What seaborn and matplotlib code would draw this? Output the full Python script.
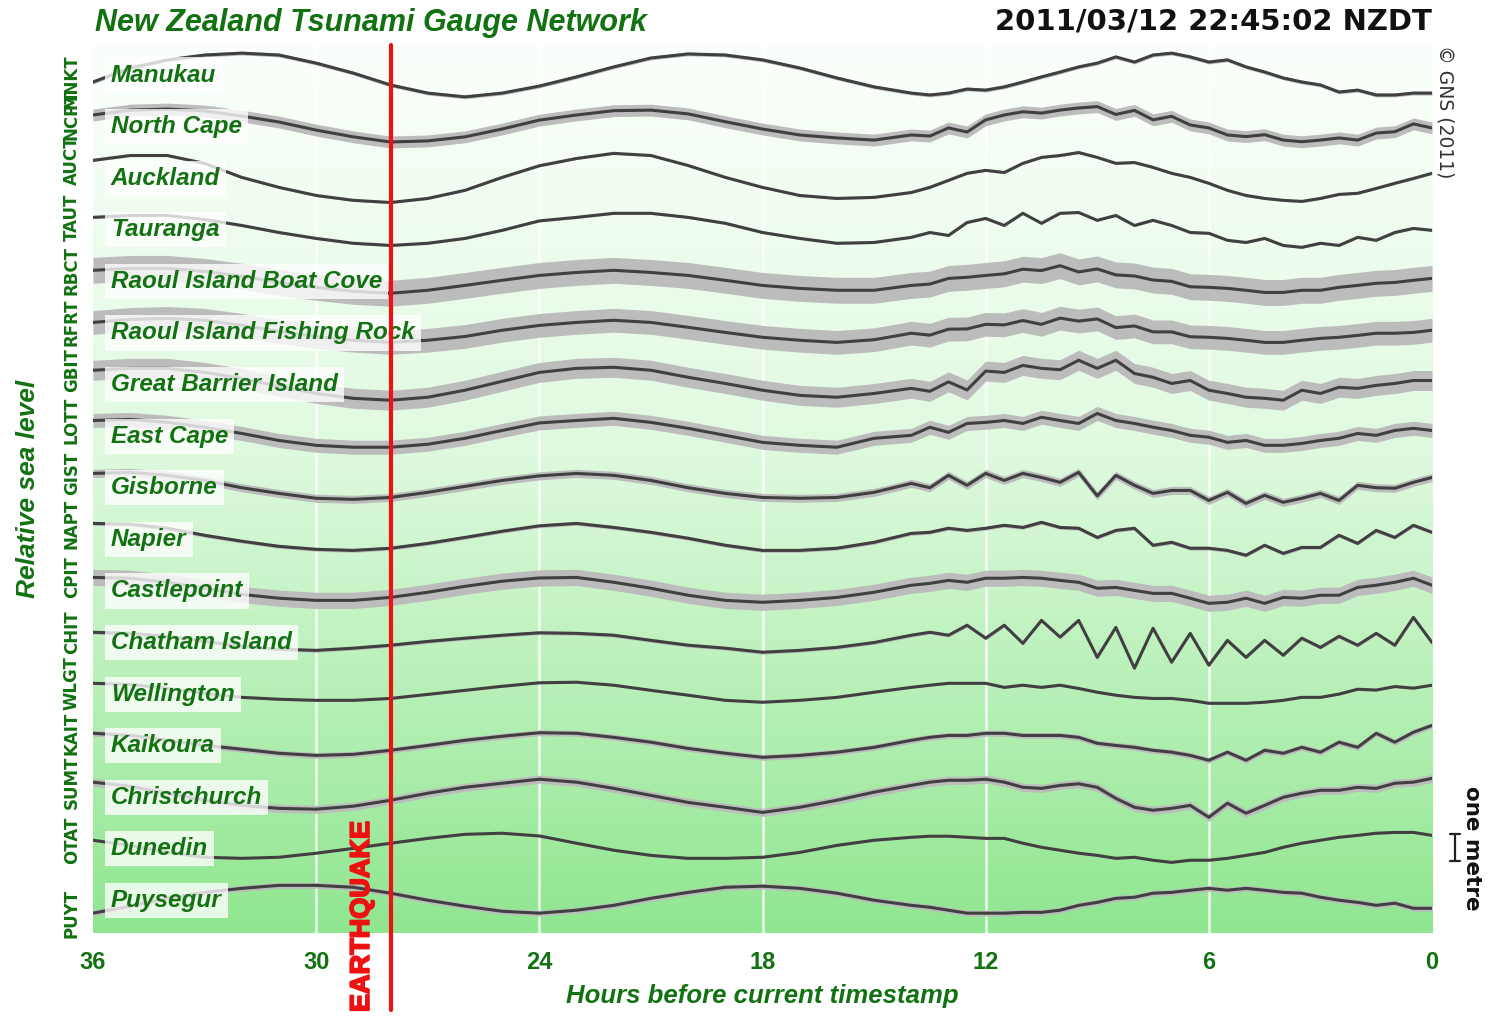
import matplotlib

# Headless backend, the file only writes out.png.
matplotlib.use("Agg")
import matplotlib.pyplot as plt  # noqa: E402
import matplotlib.patheffects as pe  # noqa: E402
import matplotlib.transforms as mtransforms  # noqa: E402
from matplotlib.colors import LinearSegmentedColormap  # noqa: E402
import numpy as np  # noqa: E402
import seaborn as sns  # noqa: E402

sns.set_style("white")
plt.rcParams["font.family"] = ["Liberation Sans", "DejaVu Sans"]

# ---------------------------------------------------------------------------
# Data: hours before the current timestamp, sea level per gauge in cm
# (hourly samples up to 14 h, then every half hour)
# ---------------------------------------------------------------------------
HOURS = [36, 35, 34, 33, 32, 31, 30, 29, 28, 27, 26, 25, 24, 23, 22, 21, 20,
         19, 18, 17, 16, 15, 14,
         13.5, 13, 12.5, 12, 11.5, 11, 10.5, 10, 9.5, 9, 8.5, 8, 7.5, 7,
         6.5, 6, 5.5, 5, 4.5, 4, 3.5, 3, 2.5, 2, 1.5, 1, 0.5, 0]

STATIONS = ["Manukau", "North Cape", "Auckland", "Tauranga",
            "Raoul Island Boat Cove", "Raoul Island Fishing Rock",
            "Great Barrier Island", "East Cape", "Gisborne", "Napier",
            "Castlepoint", "Chatham Island", "Wellington", "Kaikoura",
            "Christchurch", "Dunedin", "Puysegur"]
CODES = ["MNKT", "NCPT", "AUCT", "TAUT", "RBCT", "RFRT", "GBIT", "LOTT",
         "GIST", "NAPT", "CPIT", "CHIT", "WLGT", "KAIT", "SUMT", "OTAT", "PUYT"]

MANUKAU = [-26, 26, 56, 74, 81, 74, 44, 7, -37, -67, -81, -67, -41, -7, 30, 63,
           78, 74, 56, 26, -11, -44, -67,
           -74, -67, -52, -56, -44, -26, -7, 11, 30, 44, 67, 48, 74, 81, 67, 48,
           56, 30, 11, -11, -26, -37, -63, -56, -74, -74, -67, -67]
NORTH_CAPE = [43, 61, 65, 58, 39, 17, -13, -38, -57, -53, -38, -9, 24, 43, 59,
              61, 47, 18, -9, -31, -42, -50, -31,
              -35, -5, -20, 25, 43, 55, 50, 61, 69, 74, 45, 60, 25, 38, 6, -5,
              -31, -37, -30, -50, -56, -50, -42, -50, -24, -19, 10, -5]
AUCKLAND = [66, 84, 84, 55, 3, -34, -64, -82, -90, -75, -45, 3, 46, 73, 92, 84,
            47, 3, -34, -64, -75, -71, -53,
            -34, -8, 18, 29, 21, 55, 77, 84, 95, 77, 55, 58, 40, 18, 3, -19,
            -45, -64, -75, -82, -86, -75, -60, -56, -38, -19, -1, 18]
TAURANGA = [46, 53, 53, 38, 16, -10, -32, -50, -58, -50, -32, -2, 33, 46, 61,
            61, 46, 24, -10, -32, -50, -47, -28,
            -10, -21, 27, 42, 16, 61, 24, 61, 64, 35, 53, 16, 35, 16, -10, -13,
            -39, -47, -32, -58, -65, -50, -58, -28, -39, -10, 5, -2]
RAOUL_BOAT_COVE = [41, 48, 48, 37, 19, -4, -22, -37, -44, -33, -15, 4, 22, 33,
                   41, 33, 22, 4, -15, -26, -33, -33, -15,
                   -10, 11, 15, 22, 28, 45, 40, 58, 35, 46, 24, 20, 5, 0, -20,
                   -22, -26, -33, -41, -41, -33, -33, -22, -15, -7, -4, 4, 11]
RAOUL_FISHING_ROCK = [39, 50, 54, 47, 28, 6, -13, -27, -35, -27, -13, 10, 28,
                      39, 47, 39, 21, 2, -16, -27, -35, -25, -1,
                      -8, 14, 15, 32, 30, 46, 32, 55, 44, 52, 20, 26, 4, 4, -14,
                      -16, -20, -27, -35, -35, -27, -20, -16, -9, -1, -1, 2, 10]
GREAT_BARRIER = [53, 60, 60, 45, 23, -7, -33, -51, -58, -47, -21, 12, 45, 60,
                 64, 53, 27, 4, -21, -40, -47, -33, -14,
                 -25, 10, -20, 50, 45, 71, 60, 55, 90, 60, 90, 41, 27, 4, 15,
                 -21, -33, -47, -51, -58, -21, -33, -10, -14, -3, 4, 15, 15]
EAST_CAPE = [58, 62, 51, 33, 10, -16, -34, -41, -41, -30, -8, 21, 49, 58, 66,
             51, 29, 3, -23, -34, -41, -8, 3,
             33, 14, 47, 51, 58, 47, 70, 58, 47, 84, 58, 47, 33, 21, 3, -4, -23,
             -16, -34, -34, -27, -16, -8, 10, 3, 21, 29, 21]
GISBORNE = [53, 57, 46, 27, 0, -21, -39, -43, -36, -17, 5, 27, 44, 53, 46, 27,
            0, -21, -36, -39, -36, -17, 16,
            0, 46, 9, 53, 27, 53, 38, 20, 57, -30, 46, 9, -21, -10, -10, -47,
            -17, -58, -28, -54, -39, -21, -47, 9, 0, -2, 20, 38]
NAPIER = [59, 56, 41, 15, -7, -26, -37, -41, -33, -15, 7, 30, 50, 59, 44, 26, 4,
          -22, -41, -41, -33, -11, 22,
          26, 41, 33, 41, 52, 44, 63, 44, 41, 7, 33, 41, -22, -11, -33, -33,
          -41, -59, -22, -52, -30, -30, 15, -15, 33, 7, 52, 26]
CASTLEPOINT = [50, 47, 32, 10, -13, -27, -35, -35, -24, -5, 17, 36, 48, 50, 32,
               10, -16, -35, -42, -35, -24, -5, 21,
               28, 39, 32, 47, 47, 50, 47, 39, 32, 10, 13, 2, -9, -9, -27, -46,
               -42, -27, -46, -24, -27, -16, -16, 13, 21, 32, 47, 21]
CHATHAM = [38, 34, 23, 4, -14, -25, -29, -21, -10, 4, 16, 27, 36, 34, 27, 8,
           -10, -21, -36, -29, -18, 0, 27,
           38, 27, 64, 16, 64, -3, 82, 20, 82, -55, 56, -95, 53, -73, 34, -84,
           8, -55, 8, -47, 16, -18, 23, -10, 34, -10, 93, 0]
WELLINGTON = [40, 36, 21, 3, -12, -19, -23, -23, -16, -1, 14, 29, 42, 44, 33,
              14, -4, -23, -30, -23, -12, 7, 25,
              33, 40, 40, 40, 25, 33, 25, 33, 21, 7, -4, -12, -16, -16, -23,
              -34, -34, -34, -30, -23, -12, -12, 0, 18, 15, 28, 22, 33]
KAIKOURA = [46, 38, 20, 1, -13, -28, -36, -32, -17, 1, 20, 35, 48, 46, 31, 13,
            -10, -28, -43, -36, -24, -6, 20,
            31, 38, 38, 46, 46, 38, 38, 38, 31, 9, 1, -6, -17, -24, -36, -54,
            -24, -54, -17, -28, -6, -24, 13, -6, 46, 13, 50, 75]
CHRISTCHURCH = [56, 41, 15, -11, -30, -41, -44, -33, -11, 15, 37, 52, 67, 56,
                33, 7, -19, -37, -56, -37, -11, 19, 44,
                56, 63, 63, 67, 56, 37, 33, 44, 50, 37, -4, -37, -48, -41, -30,
                -74, -22, -59, -30, 0, 15, 26, 26, 37, 33, 52, 56, 70]
DUNEDIN = [32, 13, -13, -31, -35, -31, -16, 2, 21, 39, 54, 58, 48, 21, -5, -24,
           -35, -35, -31, -13, 13, 32, 43,
           47, 47, 43, 39, 39, 21, 6, -5, -16, -24, -35, -31, -42, -50, -42,
           -42, -35, -24, -13, 6, 21, 32, 43, 50, 58, 61, 61, 50]
PUYSEGUR = [-47, -21, 8, 30, 45, 56, 56, 49, 27, 1, -21, -40, -47, -36, -18, 8,
            30, 49, 53, 45, 27, 1, -18,
            -25, -36, -47, -47, -47, -44, -44, -36, -18, -7, 8, 12, 27, 30, 38,
            45, 38, 45, 38, 30, 27, 12, 1, -7, -18, -10, -29, -29]

LEVELS = [MANUKAU, NORTH_CAPE, AUCKLAND, TAURANGA, RAOUL_BOAT_COVE,
          RAOUL_FISHING_ROCK, GREAT_BARRIER, EAST_CAPE, GISBORNE, NAPIER,
          CASTLEPOINT, CHATHAM, WELLINGTON, KAIKOURA, CHRISTCHURCH, DUNEDIN,
          PUYSEGUR]

# half width of the raw (unfiltered) noise envelope, cm
NOISE_CM = [7, 22, 4, 4, 48, 44, 37, 26, 15, 7, 30, 7, 4, 11, 15, 4, 11]

EARTHQUAKE_HOURS = 28
TICK_HOURS = [36, 30, 24, 18, 12, 6, 0]

# ---------------------------------------------------------------------------
# Styling
# ---------------------------------------------------------------------------
SPACING = 1.911          # metres between gauge baselines
GREEN = "#127212"
TRACE = "#404040"
BAND = "#bcbcbc"
RED = "#ee1111"
BG_CMAP = LinearSegmentedColormap.from_list(
    "bg", [(0.0, "#fbfffb"), (0.45, "#e0fae0"), (1.0, "#90e690")]
)

fig = plt.figure(figsize=(15.12, 10.16), dpi=100, facecolor="white")
ax = fig.add_axes([0.0615, 0.0817, 0.8856, 0.874])
ytop, ybot = 1.111, -31.78
ax.set_xlim(36, 0)
ax.set_ylim(ybot, ytop)

# gradient backdrop
grad = np.linspace(0, 1, 256).reshape(-1, 1)
ax.imshow(grad, cmap=BG_CMAP, extent=[36, 0, ybot, ytop], aspect="auto",
          zorder=0, interpolation="bicubic")

for h in TICK_HOURS[1:-1]:
    ax.axvline(h, color="white", lw=1.8, alpha=0.85, zorder=1)

axes_x = mtransforms.blended_transform_factory(ax.transAxes, ax.transData)
data_x = mtransforms.blended_transform_factory(ax.transData, ax.transAxes)

for i, (name, code, levels, noise) in enumerate(
        zip(STATIONS, CODES, LEVELS, NOISE_CM)):
    base = -i * SPACING
    y = base + np.asarray(levels, dtype=float) / 100.0
    ax.fill_between(HOURS, y - noise / 100.0, y + noise / 100.0,
                    color=BAND, lw=0, zorder=2)
    sns.lineplot(x=HOURS, y=y, color=TRACE, lw=2.2, ax=ax, zorder=3,
                 sort=False, estimator=None)
    ax.text(0.0134, base, name, transform=axes_x, ha="left", va="center",
            fontsize=17.5, fontweight="bold", fontstyle="italic", color=GREEN,
            zorder=4,
            bbox=dict(boxstyle="square,pad=0.25", fc="white", ec="none",
                      alpha=0.78))
    ax.text(-0.0157, y[0], code, transform=axes_x, ha="center", va="center",
            rotation=90, fontsize=12, fontweight="bold", color=GREEN,
            family="DejaVu Sans", clip_on=False)

# earthquake marker
ax.axvline(EARTHQUAKE_HOURS, ymin=-0.087, ymax=1, color=RED, lw=3,
           zorder=5, clip_on=False)
ax.text(EARTHQUAKE_HOURS + 0.77, -0.089, "EARTHQUAKE", transform=data_x,
        rotation=90, ha="center", va="bottom", color=RED, fontsize=19.5,
        fontweight="bold", clip_on=False,
        path_effects=[pe.withStroke(linewidth=1.3, foreground=RED)])

# one metre scale bar
bar_x, cap = 1.0172, 0.004
bar_lo, bar_hi = -29.1, -28.1
for xs, ys in (([bar_x, bar_x], [bar_lo, bar_hi]),
               ([bar_x - cap, bar_x + cap], [bar_lo, bar_lo]),
               ([bar_x - cap, bar_x + cap], [bar_hi, bar_hi])):
    ax.plot(xs, ys, color="#222222", lw=1.6, transform=axes_x, clip_on=False)
ax.text(1.0299, -28.63, "one metre", transform=axes_x, rotation=-90,
        ha="center", va="center", fontsize=15.5, fontweight="bold",
        family="DejaVu Sans", color="#111111", clip_on=False)
ax.text(1.0097, 1.0, "\u00a9 GNS (2011)", transform=ax.transAxes,
        rotation=-90, ha="center", va="top", fontsize=13.5,
        family="DejaVu Sans", color="#333333", clip_on=False)

# axes dressing
ax.set_xticks(TICK_HOURS)
ax.set_xticklabels([str(h) for h in TICK_HOURS], fontsize=17,
                   fontweight="bold", color=GREEN)
ax.tick_params(axis="x", length=0, pad=13)
ax.set_yticks([])
for side in ax.spines.values():
    side.set_visible(False)
ax.set_xlabel("Hours before current timestamp", fontsize=18.5,
              fontweight="bold", fontstyle="italic", color=GREEN)
ax.xaxis.set_label_coords(0.5, -0.058)
ax.set_ylabel("Relative sea level", fontsize=19, fontweight="bold",
              fontstyle="italic", color=GREEN)
ax.yaxis.set_label_coords(-0.0396, 0.5)

fig.text(95 / 1512, 1 - 23 / 1016, "New Zealand Tsunami Gauge Network",
         ha="left", va="center", fontsize=22, fontweight="bold",
         fontstyle="italic", color=GREEN)
fig.text(1432 / 1512, 1 - 22 / 1016, "2011/03/12 22:45:02 NZDT",
         ha="right", va="center", fontsize=21, fontweight="bold",
         family="DejaVu Sans", color="#111111")

fig.savefig("out.png", dpi=100, facecolor="white")
plt.close(fig)
